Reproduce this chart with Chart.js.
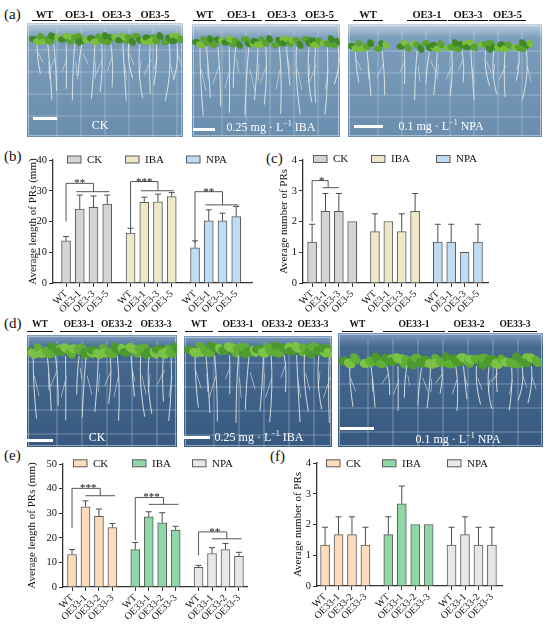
<!DOCTYPE html>
<html>
<head>
<meta charset="utf-8">
<script src="https://cdn.jsdelivr.net/npm/chart.js@4.4.0/dist/chart.umd.min.js"></script>
<style>
  body { margin: 0; background: #fff; width: 550px; height: 626px; position: relative; overflow: hidden;
         font-family: "Liberation Serif", "Times New Roman", serif; color: #111; }
  .abs { position: absolute; }
  .plab { font-size: 15px; line-height: 1; }
  .geno { font-weight: bold; line-height: 1; white-space: nowrap; transform: translate(-50%, -50%); }
  .uline { height: 1.5px; background: #111; }
  .ptxt { color: #fff; font-size: 12px; white-space: nowrap; transform: translate(-50%, -50%); line-height: 1; }
  .ptxt sup { font-size: 8px; }
  .sbar { height: 2.5px; background: #fff; }
  canvas.chart { position: absolute; }
</style>
</head>
<body>

<div class="abs plab" style="left:4px;top:7px">(a)</div>
<div class="abs plab" style="left:4px;top:149px">(b)</div>
<div class="abs plab" style="left:266px;top:151px">(c)</div>
<div class="abs plab" style="left:4px;top:316px">(d)</div>
<div class="abs plab" style="left:4px;top:448px">(e)</div>
<div class="abs plab" style="left:270px;top:449px">(f)</div>

<canvas id="chartB" class="chart" width="270" height="185" style="left:0px;top:140px"></canvas>
<canvas id="chartC" class="chart" width="280" height="185" style="left:270px;top:140px"></canvas>
<canvas id="chartE" class="chart" width="270" height="182" style="left:0px;top:444px"></canvas>
<canvas id="chartF" class="chart" width="280" height="183" style="left:270px;top:443px"></canvas>

<script>
// ---- data ----
const treatNames = ['CK', 'IBA', 'NPA'];
const linesOE3 = ['WT', 'OE3-1', 'OE3-3', 'OE3-5'];
const linesOE33 = ['WT', 'OE33-1', 'OE33-2', 'OE33-3'];

// (b) average length of PRs (mm), OE3 lines
const lenCK_b = [13.7, 24.0, 24.6, 25.7];
const lenCK_b_sd = [1.4, 4.6, 3.7, 2.9];
const lenIBA_b = [16.2, 26.2, 26.4, 28.1];
const lenIBA_b_sd = [1.6, 1.7, 2.5, 1.3];
const lenNPA_b = [11.4, 20.2, 20.2, 21.6];
const lenNPA_b_sd = [2.3, 3.6, 2.5, 3.3];

// (c) average number of PRs, OE3 lines
const numCK_c = [1.33, 2.33, 2.33, 2.0];
const numCK_c_sd = [0.58, 0.58, 0.58, 0];
const numIBA_c = [1.67, 2.0, 1.67, 2.33];
const numIBA_c_sd = [0.58, 0, 0.58, 0.58];
const numNPA_c = [1.33, 1.33, 1.0, 1.33];
const numNPA_c_sd = [0.58, 0.58, 0, 0.58];

// (e) average length of PRs (mm), OE33 lines
const lenCK_e = [13.2, 32.6, 28.7, 24.2];
const lenCK_e_sd = [2.0, 2.4, 3.0, 1.6];
const lenIBA_e = [15.2, 28.5, 26.1, 23.1];
const lenIBA_e_sd = [2.9, 2.1, 4.1, 1.6];
const lenNPA_e = [8.0, 13.6, 15.2, 12.5];
const lenNPA_e_sd = [0.8, 2.4, 2.5, 1.6];

// (f) average number of PRs, OE33 lines
const numCK_f = [1.33, 1.67, 1.67, 1.33];
const numCK_f_sd = [0.58, 0.58, 0.58, 0.58];
const numIBA_f = [1.67, 2.67, 2.0, 2.0];
const numIBA_f_sd = [0.58, 0.58, 0, 0];
const numNPA_f = [1.33, 1.67, 1.33, 1.33];
const numNPA_f_sd = [0.58, 0.58, 0.58, 0.58];

// significance brackets: group, leg bottom, top line, lower line (y values), label
const sigB = [[0, 20, 32.4, 29.7, '**'], [1, 17.8, 33.0, 30.0, '***'], [2, 13, 29.7, 25.4, '**']];
const sigC = [[0, 2.0, 3.33, 3.1, '*']];
const sigE = [[0, 24, 40.1, 37.1, '***'], [1, 19, 36.4, 33.6, '***'], [2, 12.9, 22.4, 19.6, '**']];

// genotype labels above the photos: text, underline start, underline end
const genoA = [['WT',32,57],['OE3-1',60,99],['OE3-3',101,132],['OE3-5',135,175],
               ['WT',193,216],['OE3-1',221,262],['OE3-3',265,298],['OE3-5',301,338],
               ['WT',353,383],['OE3-1',407,447],['OE3-3',448,488],['OE3-5',489,526]];
const genoD = [['WT',27,53],['OE33-1',60,98],['OE33-2',101,132],['OE33-3',135,177],
               ['WT',185,213],['OE33-1',218,258],['OE33-2',262,292],['OE33-3',294,332],
               ['WT',342,373],['OE33-1',383,445],['OE33-2',448,490],['OE33-3',493,537]];

const GAP = 4.7; // distance between treatment groups on the x axis, in bar slots

// ---- photo panels (drawn as stylised plates) ----
const plates = [
  {x:27, y:23, w:156, h:114, dark:false, clusters:[[10,150,16]], leafY:18, root:60, bar:[6,94,24], text:'CK', tx:73, ty:102},
  {x:192, y:24, w:148, h:113, dark:false, clusters:[[6,145,15]], leafY:20, root:72, bar:[1,104,22], text:'0.25 mg · L<sup>−1</sup> IBA', tx:79, ty:102},
  {x:348, y:24, w:194, h:113, dark:false, clusters:[[8,32,3],[58,180,12]], leafY:24, root:52, bar:[6,101,29], text:'0.1 mg · L<sup>−1</sup> NPA', tx:93, ty:101},
  {x:27, y:335, w:150, h:112, dark:true, clusters:[[8,145,14]], leafY:18, root:68, bar:[0,104,26], text:'CK', tx:70, ty:102},
  {x:184, y:336, w:148, h:111, dark:true, clusters:[[10,145,13]], leafY:16, root:72, bar:[0,100,26], text:'0.25 mg · L<sup>−1</sup> IBA', tx:75, ty:100},
  {x:338, y:333, w:205, h:114, dark:true, clusters:[[10,35,2],[48,195,14]], leafY:30, root:48, bar:[2,94,34], text:'0.1 mg · L<sup>−1</sup> NPA', tx:120, ty:105}
];

function drawPlate(p, seed) {
  const cv = document.createElement('canvas');
  cv.width = p.w * 2; cv.height = p.h * 2;
  cv.style.cssText = `position:absolute;left:${p.x}px;top:${p.y}px;width:${p.w}px;height:${p.h}px`;
  document.body.appendChild(cv);
  const c = cv.getContext('2d');
  c.scale(2, 2);
  const g = c.createLinearGradient(0, 0, 0, p.h);
  if (p.dark) {
    g.addColorStop(0, '#7f9dbf'); g.addColorStop(0.12, '#46698f'); g.addColorStop(1, '#385a80');
  } else {
    g.addColorStop(0, '#c3d2e0'); g.addColorStop(0.12, '#7c9dbb'); g.addColorStop(1, '#6a8eaf');
  }
  c.fillStyle = g;
  c.fillRect(0, 0, p.w, p.h);
  // grid of the plate
  c.strokeStyle = 'rgba(230,238,246,0.45)';
  c.lineWidth = 0.8;
  const gs = p.dark ? 25 : 24, gsy = p.dark ? 24 : 22;
  for (let x = 30; x < p.w; x += gs) { c.beginPath(); c.moveTo(x, 6); c.lineTo(x, p.h); c.stroke(); }
  for (let y = 27; y < p.h; y += gsy) { c.beginPath(); c.moveTo(0, y); c.lineTo(p.w, y); c.stroke(); }
  c.strokeStyle = 'rgba(235,240,248,0.6)';
  c.strokeRect(1.5, 1.5, p.w - 3, p.h - 3);
  // seedlings
  let k = 0;
  p.clusters.forEach(([x0, x1, n]) => {
    for (let j = 0; j < n; j++, k++) {
      const sx = x0 + (n > 1 ? (x1 - x0) * j / (n - 1) : 0) + 2 * Math.sin(k * 2.3 + seed);
      const len = p.root * (0.55 + 0.45 * Math.abs(Math.sin(k * 1.9 + seed)));
      c.strokeStyle = 'rgba(232,238,236,0.85)';
      c.lineWidth = 1;
      c.beginPath();
      c.moveTo(sx, p.leafY + 3);
      c.quadraticCurveTo(sx + 3 * Math.sin(k), p.leafY + len * 0.5, sx + 4 * Math.sin(k * 0.7 + 1), p.leafY + len);
      c.stroke();
      c.lineWidth = 0.6;
      c.beginPath();
      c.moveTo(sx + 1, p.leafY + len * 0.35);
      c.lineTo(sx + 6 * Math.cos(k * 1.3), p.leafY + len * 0.65);
      c.stroke();
      const r = p.dark ? 6 : 4.2;
      const greens = p.dark ? ['#4c9a2e', '#7cc246', '#5fae35'] : ['#3f8a26', '#7bbf3c', '#5aa32f'];
      for (let q = 0; q < 3; q++) {
        c.fillStyle = greens[(q + k) % 3];
        c.beginPath();
        c.ellipse(sx + (q - 1) * r * 0.9, p.leafY - 2 + 3 * Math.sin(k + q * 2), r, r * 0.75,
                  0.5 * q, 0, Math.PI * 2);
        c.fill();
      }
    }
  });
  // scale bar and treatment text
  const sb = document.createElement('div');
  sb.className = 'abs sbar';
  sb.style.cssText += `left:${p.x + p.bar[0]}px;top:${p.y + p.bar[1]}px;width:${p.bar[2]}px`;
  document.body.appendChild(sb);
  const t = document.createElement('div');
  t.className = 'abs ptxt';
  t.style.left = (p.x + p.tx) + 'px';
  t.style.top = (p.y + p.ty) + 'px';
  t.innerHTML = p.text;
  document.body.appendChild(t);
}
plates.forEach((p, i) => drawPlate(p, i * 1.7));

function addGeno(list, ty, uy, size) {
  list.forEach(([txt, x1, x2]) => {
    const d = document.createElement('div');
    d.className = 'abs geno';
    d.style.cssText += `left:${(x1 + x2) / 2}px;top:${ty}px;font-size:${size}px`;
    d.textContent = txt;
    document.body.appendChild(d);
    const u = document.createElement('div');
    u.className = 'abs uline';
    u.style.cssText += `left:${x1}px;top:${uy}px;width:${x2 - x1}px`;
    document.body.appendChild(u);
  });
}
addGeno(genoA, 15, 19.5, 10.5);
addGeno(genoD, 324.5, 330.5, 9.5);

// ---- charts ----
Chart.defaults.font.family = "'Liberation Serif', 'Times New Roman', serif";
Chart.defaults.color = '#111';

// error bars, significance brackets and the legend
const extrasPlugin = {
  id: 'extras',
  afterDatasetsDraw(chart, args, opts) {
    const { ctx, chartArea } = chart;
    const x = chart.scales.x, y = chart.scales.y;
    ctx.save();
    ctx.strokeStyle = '#4d4d4d';
    ctx.lineWidth = 1;
    chart.data.datasets.forEach(ds => {
      ds.data.forEach((p, i) => {
        const e = ds.err[i];
        if (!e) return;
        const px = x.getPixelForValue(p.x);
        const y0 = y.getPixelForValue(p.y), y1 = y.getPixelForValue(p.y + e);
        ctx.beginPath();
        ctx.moveTo(px, y0); ctx.lineTo(px, y1);
        ctx.moveTo(px - 3, y1); ctx.lineTo(px + 3, y1);
        ctx.stroke();
      });
    });
    const b = opts.bracket;
    (opts.sig || []).forEach(([g, leg, top, low, txt]) => {
      const gx = v => x.getPixelForValue(g * GAP + v);
      ctx.strokeStyle = '#555';
      ctx.beginPath();
      ctx.moveTo(gx(0), y.getPixelForValue(leg));
      ctx.lineTo(gx(0), y.getPixelForValue(top));
      ctx.lineTo(gx(b.xTop), y.getPixelForValue(top));
      ctx.lineTo(gx(b.xTop), y.getPixelForValue(low));
      ctx.moveTo(gx(b.lowFrom), y.getPixelForValue(low));
      ctx.lineTo(gx(b.lowTo), y.getPixelForValue(low));
      ctx.stroke();
      ctx.fillStyle = '#111';
      ctx.font = "11px 'Liberation Serif', serif";
      ctx.textAlign = 'center';
      ctx.textBaseline = 'alphabetic';
      ctx.fillText(txt, gx(b.starX), y.getPixelForValue(top) + 3);
    });
    // legend
    ctx.font = "11px 'Liberation Serif', serif";
    ctx.textAlign = 'left';
    ctx.textBaseline = 'middle';
    chart.data.datasets.forEach((ds, i) => {
      const lx = chartArea.left + opts.legendX[i];
      const ly = chartArea.top + opts.legendDy;
      ctx.fillStyle = ds.backgroundColor;
      ctx.fillRect(lx, ly - 3.5, 14, 7);
      ctx.strokeStyle = ds.borderColor;
      ctx.strokeRect(lx + 0.5, ly - 3.5, 13.5, 7);
      ctx.fillStyle = '#111';
      ctx.fillText(ds.label, lx + 20, ly + 0.5);
    });
    ctx.restore();
  }
};

function buildChart(id, cfg) {
  const datasets = cfg.series.map(([vals, sd], t) => ({
    label: treatNames[t],
    data: vals.map((v, i) => ({ x: t * GAP + i, y: v })),
    err: sd,
    backgroundColor: cfg.colors[t],
    borderColor: '#5b5b5b',
    borderWidth: 1,
    barThickness: 9,
    grouped: false
  }));
  const tickPos = [], tickLab = [];
  treatNames.forEach((_, t) => cfg.lines.forEach((n, i) => { tickPos.push(t * GAP + i); tickLab.push(n); }));

  return new Chart(document.getElementById(id), {
    type: 'bar',
    data: { datasets },
    options: {
      responsive: false,
      animation: false,
      layout: { padding: cfg.pad },
      plugins: {
        legend: { display: false },
        tooltip: { enabled: false },
        extras: { sig: cfg.sig, bracket: cfg.bracket, legendX: cfg.legendX, legendDy: cfg.legendDy }
      },
      scales: {
        x: {
          type: 'linear',
          min: cfg.xMin,
          max: cfg.xMax,
          offset: false,
          afterBuildTicks: s => { s.ticks = tickPos.map(v => ({ value: v })); },
          afterFit: s => { s.height = cfg.xH; s.paddingLeft = 0; s.paddingRight = 0; },
          ticks: {
            autoSkip: false, minRotation: 45, maxRotation: 45, padding: 1,
            font: { size: 10 }, color: '#111',
            callback: (v, i) => tickLab[i]
          },
          grid: { display: true, drawOnChartArea: false, drawTicks: true, tickLength: 4,
                  color: '#333', lineWidth: 1, offset: false },
          border: { display: true, color: '#333', width: 1.3 }
        },
        y: {
          min: 0,
          max: cfg.yMax,
          afterFit: s => { s.width = cfg.yW; s.paddingTop = 0; s.paddingBottom = 0; },
          ticks: { stepSize: cfg.yStep, padding: 2, font: { size: 10.5 }, color: '#111' },
          grid: { display: true, drawOnChartArea: false, drawTicks: true, tickLength: 4,
                  color: '#333', lineWidth: 1 },
          border: { display: true, color: '#333', width: 1.3 },
          title: { display: true, text: cfg.yTitle, font: { size: 11 }, color: '#111',
                   padding: { top: 2, bottom: 0 } }
        }
      }
    },
    plugins: [extrasPlugin]
  });
}

const colorsOE3 = ['#d4d4d4', '#efe8c8', '#c0dcf3'];
const colorsOE33 = ['#fddcbb', '#8fd7a6', '#e8e8e8'];

buildChart('chartB', {
  series: [[lenCK_b, lenCK_b_sd], [lenIBA_b, lenIBA_b_sd], [lenNPA_b, lenNPA_b_sd]],
  colors: colorsOE3, lines: linesOE3,
  yMax: 40, yStep: 10, yTitle: 'Average length of PRs (mm)',
  xMin: -0.95, xMax: 13.55,
  pad: { left: 24.4, right: 18, top: 20, bottom: 0 }, yW: 28.6, xH: 42,
  sig: sigB, bracket: { xTop: 2, lowFrom: 0.75, lowTo: 3.15, starX: 1 },
  legendX: [14, 72, 133], legendDy: -0.5
});

buildChart('chartC', {
  series: [[numCK_c, numCK_c_sd], [numIBA_c, numIBA_c_sd], [numNPA_c, numNPA_c_sd]],
  colors: colorsOE3, lines: linesOE3,
  yMax: 4, yStep: 1, yTitle: 'Average number of PRs',
  xMin: -0.68, xMax: 13.15,
  pad: { left: 5.4, right: 62, top: 20, bottom: 0 }, yW: 27.6, xH: 42,
  sig: sigC, bracket: { xTop: 1.2, lowFrom: 0.8, lowTo: 2.0, starX: 0.72 },
  legendX: [10, 68, 133], legendDy: -1
});

buildChart('chartE', {
  series: [[lenCK_e, lenCK_e_sd], [lenIBA_e, lenIBA_e_sd], [lenNPA_e, lenNPA_e_sd]],
  colors: colorsOE33, lines: linesOE33,
  yMax: 50, yStep: 10, yTitle: 'Average length of PRs (mm)',
  xMin: -0.67, xMax: 13.0,
  pad: { left: 23.4, right: 23, top: 20, bottom: 0 }, yW: 39.6, xH: 39,
  sig: sigE, bracket: { xTop: 2.1, lowFrom: 1.0, lowTo: 3.2, starX: 1.2 },
  legendX: [10, 69, 129], legendDy: -0.7
});

buildChart('chartF', {
  series: [[numCK_f, numCK_f_sd], [numIBA_f, numIBA_f_sd], [numNPA_f, numNPA_f_sd]],
  colors: colorsOE33, lines: linesOE33,
  yMax: 4, yStep: 1, yTitle: 'Average number of PRs',
  xMin: -0.6, xMax: 13.15,
  pad: { left: 19.4, right: 48, top: 20, bottom: 0 }, yW: 27.6, xH: 40,
  sig: [], bracket: null,
  legendX: [9, 65, 130], legendDy: 0.3
});
</script>
</body>
</html>
